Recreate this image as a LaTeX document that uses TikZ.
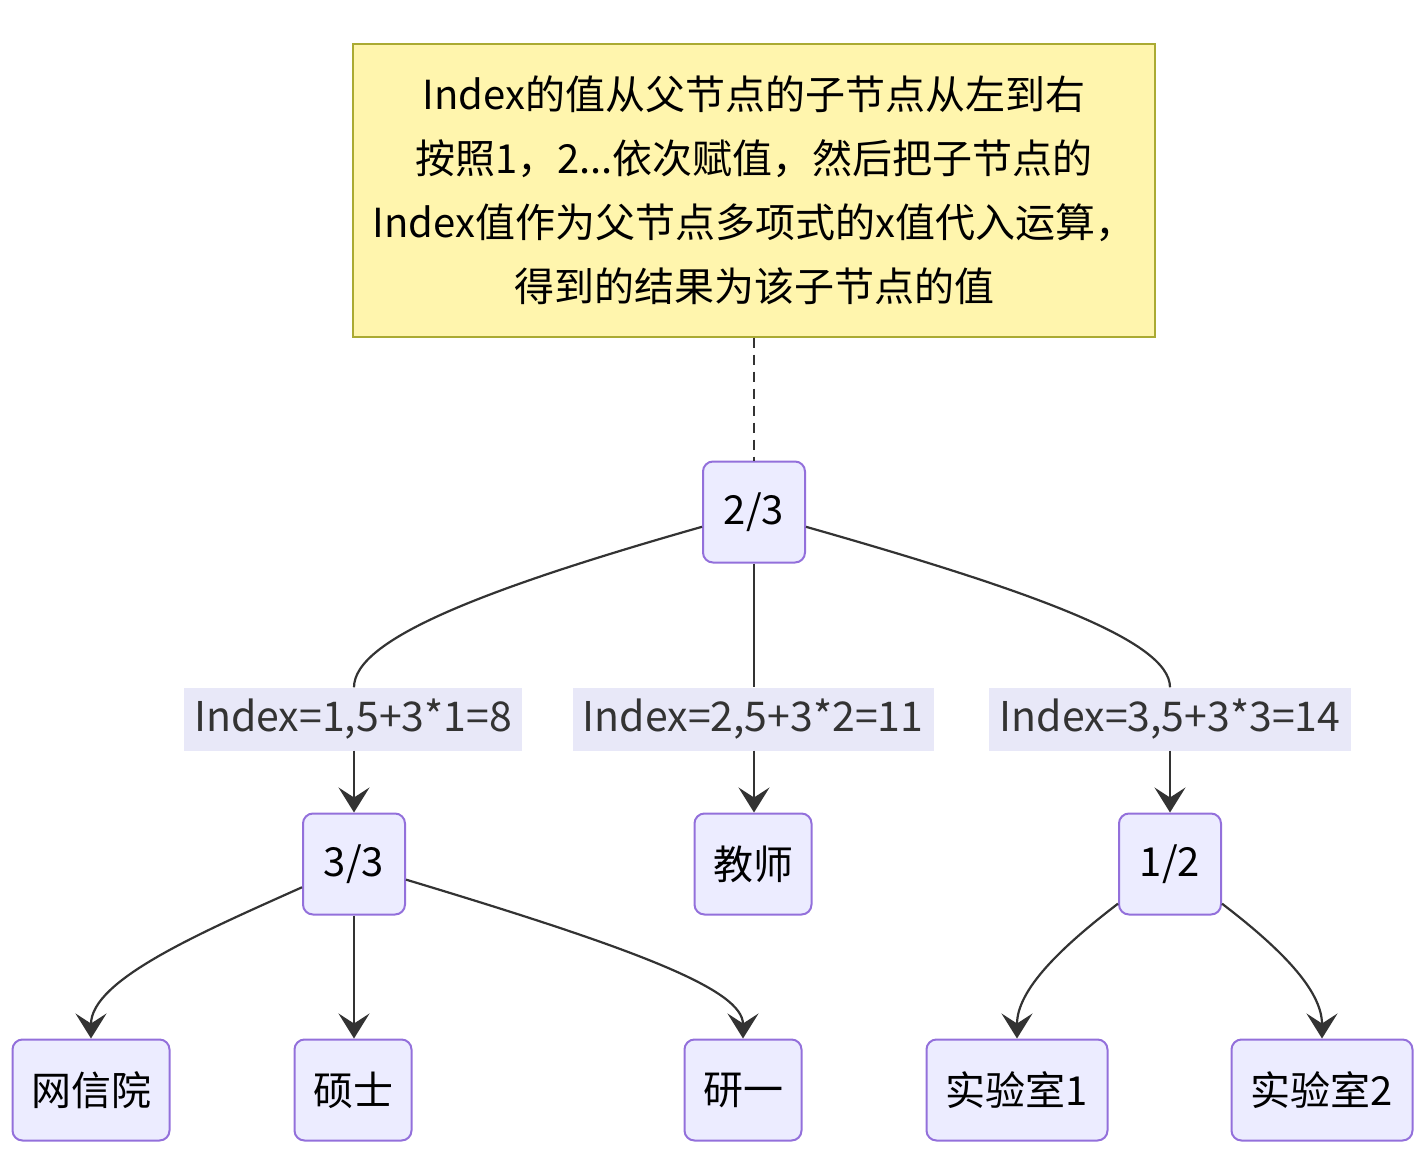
\documentclass[tikz,border=0pt]{standalone}
\usepackage{fontspec}
\setmainfont{Noto Sans CJK SC}
\usetikzlibrary{arrows.meta,positioning}
\definecolor{notefill}{HTML}{FFF5AD}
\definecolor{notedraw}{HTML}{AAAA33}
\definecolor{boxfill}{HTML}{ECECFF}
\definecolor{boxdraw}{HTML}{9370DB}
\definecolor{edge}{HTML}{333333}
\definecolor{lblfill}{HTML}{E8E8F8}
\tikzset{
  note/.style={rectangle,draw=notedraw,line width=2pt,fill=notefill,
    minimum width=802pt,minimum height=293pt,align=center,
    font=\fontsize{40}{64}\selectfont},
  treebox/.style={rectangle,rounded corners=10pt,draw=boxdraw,line width=2pt,fill=boxfill,
    minimum height=101pt,inner xsep=18pt,font=\fontsize{40}{48}\selectfont},
  idxlabel/.style={rectangle,fill=lblfill,minimum height=63pt,inner xsep=1pt,
    text=edge,font=\fontsize{41}{48}\selectfont},
  link/.style={-{Stealth[length=25pt,width=31pt,inset=10pt]},line width=2.2pt,draw=edge},
  linkplain/.style={line width=2.2pt,draw=edge},
  linkdash/.style={line width=2pt,draw=edge,dash pattern=on 10pt off 7pt},
}
\begin{document}
\begin{tikzpicture}[x=1pt,y=-1pt]
\useasboundingbox (0,0) rectangle (1417,1159);

% explanation note
\node[note] (nt) at (754,190) {Index的值从父节点的子节点从左到右\\按照1，2...依次赋值，然后把子节点的\\Index值作为父节点多项式的x值代入运算，\\得到的结果为该子节点的值};

% tree
\node[treebox,minimum width=102pt] (r) at (754,512) {2/3};
\node[treebox,minimum width=102pt] (a) at (354,864) {3/3};
\node[treebox,minimum width=117pt] (b) at (753,864) {教师};
\node[treebox,minimum width=102pt] (c) at (1170,864) {1/2};
\node[treebox,minimum width=157pt] (a1) at (91,1090) {网信院};
\node[treebox,minimum width=117pt] (a2) at (353,1090) {硕士};
\node[treebox,minimum width=117pt] (a3) at (743,1090) {研一};
\node[treebox,minimum width=181pt] (c1) at (1017,1090) {实验室1};
\node[treebox,minimum width=181pt] (c2) at (1322,1090) {实验室2};

% edge labels
\node[idxlabel,minimum width=338pt] (l1) at (353,719) {Index=1,5+3*1=8};
\node[idxlabel,minimum width=361pt] (l2) at (753,719) {Index=2,5+3*2=11};
\node[idxlabel,minimum width=362pt] (l3) at (1170,719) {Index=3,5+3*3=14};

% note link
\draw[linkdash] (nt.south) -- (r.north);

% root to children
\draw[linkplain] (r) .. controls (480,590) and (354,640) .. (l1.north -| a);
\draw[link] (l1.south -| a) -- (a.north);
\draw[linkplain] (r.south) -- (l2.north -| r);
\draw[link] (l2.south -| r) -- (r.south |- b.north);
\draw[linkplain] (r) .. controls (1028,590) and (1170,640) .. (l3.north);
\draw[link] (l3.south) -- (c.north);

% second level
\draw[link] (a) .. controls (200,933) and (91,980) .. (a1.north);
\draw[link] (a.south) -- (a2.north -| a);
\draw[link] (a) .. controls (640,950) and (743,990) .. (a3.north);
\draw[link] (c) .. controls (1060,948) and (1017,990) .. (c1.north);
\draw[link] (c) .. controls (1280,948) and (1322,990) .. (c2.north);
\end{tikzpicture}
\end{document}
